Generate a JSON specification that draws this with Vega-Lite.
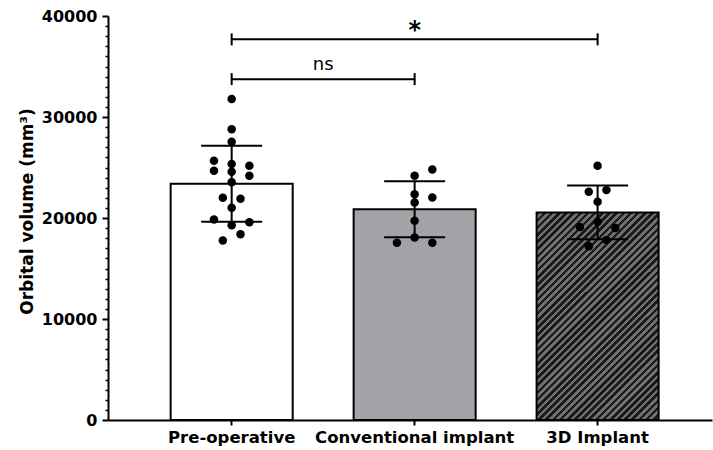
{
  "$schema": "https://vega.github.io/schema/vega-lite/v6.json",
  "width": 604,
  "height": 404,
  "autosize": {"type": "none"},
  "padding": {"left": 108, "top": 16, "right": 1, "bottom": 30},
  "background": "white",
  "config": {"view": {"stroke": null}, "font": "DejaVu Sans"},
  "resolve": {"scale": {"xOffset": "independent"}},
  "datasets": {
    "bars": [
      {"group": "Pre-operative", "mean": 23390, "lo": 19620, "hi": 27160},
      {"group": "Conventional implant", "mean": 20860, "lo": 18085, "hi": 23635},
      {"group": "3D Implant", "mean": 20550, "lo": 17890, "hi": 23210}
    ],
    "points": [
      {"group": "Pre-operative", "value": 31780, "col": 0},
      {"group": "Pre-operative", "value": 28780, "col": 0},
      {"group": "Pre-operative", "value": 27550, "col": 0},
      {"group": "Pre-operative", "value": 25670, "col": -2},
      {"group": "Pre-operative", "value": 24680, "col": -2},
      {"group": "Pre-operative", "value": 25340, "col": 0},
      {"group": "Pre-operative", "value": 24580, "col": 0},
      {"group": "Pre-operative", "value": 25170, "col": 2},
      {"group": "Pre-operative", "value": 24180, "col": 2},
      {"group": "Pre-operative", "value": 23530, "col": 0},
      {"group": "Pre-operative", "value": 22000, "col": -1},
      {"group": "Pre-operative", "value": 21900, "col": 1},
      {"group": "Pre-operative", "value": 21010, "col": 0},
      {"group": "Pre-operative", "value": 19860, "col": -2},
      {"group": "Pre-operative", "value": 19590, "col": 2},
      {"group": "Pre-operative", "value": 19270, "col": 0},
      {"group": "Pre-operative", "value": 18400, "col": 1},
      {"group": "Pre-operative", "value": 17780, "col": -1},
      {"group": "Conventional implant", "value": 24810, "col": 2},
      {"group": "Conventional implant", "value": 24180, "col": 0},
      {"group": "Conventional implant", "value": 22340, "col": 0},
      {"group": "Conventional implant", "value": 22040, "col": 2},
      {"group": "Conventional implant", "value": 21540, "col": 0},
      {"group": "Conventional implant", "value": 19720, "col": 0},
      {"group": "Conventional implant", "value": 18080, "col": 0},
      {"group": "Conventional implant", "value": 17540, "col": -2},
      {"group": "Conventional implant", "value": 17540, "col": 2},
      {"group": "3D Implant", "value": 25170, "col": 0},
      {"group": "3D Implant", "value": 22590, "col": -1},
      {"group": "3D Implant", "value": 22760, "col": 1},
      {"group": "3D Implant", "value": 21600, "col": 0},
      {"group": "3D Implant", "value": 19620, "col": 0},
      {"group": "3D Implant", "value": 19120, "col": -2},
      {"group": "3D Implant", "value": 19020, "col": 2},
      {"group": "3D Implant", "value": 17810, "col": 1},
      {"group": "3D Implant", "value": 17210, "col": -1}
    ],
    "brackets": [
      {"from": "Pre-operative", "to": "Conventional implant", "y": 33750, "label": "ns"},
      {"from": "Pre-operative", "to": "3D Implant", "y": 37690, "label": "*"}
    ]
  },
  "layer": [
    {
      "data": {"name": "bars"},
      "mark": {"type": "bar", "stroke": "black", "strokeWidth": 2, "width": {"band": 1}},
      "encoding": {
        "x": {
          "field": "group", "type": "nominal",
          "scale": {"domain": ["Pre-operative", "Conventional implant", "3D Implant"], "paddingInner": 0.333, "paddingOuter": 0.317, "align": 0.54},
          "axis": {
            "title": null, "labelAngle": 0, "labelFont": "DejaVu Sans", "labelFontWeight": "bold", "labelFontSize": 16.5,
            "labelColor": "black", "labelPadding": 4, "labelLimit": 0, "tickColor": "black", "tickSize": 5, "tickWidth": 2,
            "domainColor": "black", "domainWidth": 2, "grid": false
          }
        },
        "y": {
          "field": "mean", "type": "quantitative",
          "scale": {"domain": [0, 40000], "nice": false},
          "axis": {
            "title": "Orbital volume (mm³)", "titleFont": "DejaVu Sans", "titleFontWeight": "bold", "titleFontSize": 17,
            "titleColor": "black", "titlePadding": 5, "titleY": 195,
            "labelFont": "DejaVu Sans", "labelFontWeight": "bold", "labelFontSize": 16, "labelColor": "black", "labelPadding": 5,
            "tickCount": 40, "labelOverlap": false, "format": "d",
            "labelExpr": "datum.value % 10000 === 0 ? datum.label : ''",
            "tickSize": {"condition": {"test": "datum.value % 10000 === 0", "value": 6}, "value": 3},
            "tickWidth": {"condition": {"test": "datum.value % 10000 === 0", "value": 2}, "value": 1.5},
            "tickColor": "black", "domainColor": "black", "domainWidth": 2, "grid": false
          }
        },
        "fill": {
          "condition": [
            {"test": "datum.group === '3D Implant'", "value": {
              "gradient": "linear", "x1": 0, "y1": 0, "x2": 0.6935, "y2": 1.18,
              "stops": [
                {"offset": 0, "color": "#1a1a1a"}, {"offset": 0.0109, "color": "#1a1a1a"}, {"offset": 0.0109, "color": "#707070"}, {"offset": 0.0217, "color": "#707070"},
                {"offset": 0.0217, "color": "#1a1a1a"}, {"offset": 0.0326, "color": "#1a1a1a"}, {"offset": 0.0326, "color": "#707070"}, {"offset": 0.0435, "color": "#707070"},
                {"offset": 0.0435, "color": "#1a1a1a"}, {"offset": 0.0543, "color": "#1a1a1a"}, {"offset": 0.0543, "color": "#707070"}, {"offset": 0.0652, "color": "#707070"},
                {"offset": 0.0652, "color": "#1a1a1a"}, {"offset": 0.0761, "color": "#1a1a1a"}, {"offset": 0.0761, "color": "#707070"}, {"offset": 0.0870, "color": "#707070"},
                {"offset": 0.0870, "color": "#1a1a1a"}, {"offset": 0.0978, "color": "#1a1a1a"}, {"offset": 0.0978, "color": "#707070"}, {"offset": 0.1087, "color": "#707070"},
                {"offset": 0.1087, "color": "#1a1a1a"}, {"offset": 0.1196, "color": "#1a1a1a"}, {"offset": 0.1196, "color": "#707070"}, {"offset": 0.1304, "color": "#707070"},
                {"offset": 0.1304, "color": "#1a1a1a"}, {"offset": 0.1413, "color": "#1a1a1a"}, {"offset": 0.1413, "color": "#707070"}, {"offset": 0.1522, "color": "#707070"},
                {"offset": 0.1522, "color": "#1a1a1a"}, {"offset": 0.1630, "color": "#1a1a1a"}, {"offset": 0.1630, "color": "#707070"}, {"offset": 0.1739, "color": "#707070"},
                {"offset": 0.1739, "color": "#1a1a1a"}, {"offset": 0.1848, "color": "#1a1a1a"}, {"offset": 0.1848, "color": "#707070"}, {"offset": 0.1957, "color": "#707070"},
                {"offset": 0.1957, "color": "#1a1a1a"}, {"offset": 0.2065, "color": "#1a1a1a"}, {"offset": 0.2065, "color": "#707070"}, {"offset": 0.2174, "color": "#707070"},
                {"offset": 0.2174, "color": "#1a1a1a"}, {"offset": 0.2283, "color": "#1a1a1a"}, {"offset": 0.2283, "color": "#707070"}, {"offset": 0.2391, "color": "#707070"},
                {"offset": 0.2391, "color": "#1a1a1a"}, {"offset": 0.2500, "color": "#1a1a1a"}, {"offset": 0.2500, "color": "#707070"}, {"offset": 0.2609, "color": "#707070"},
                {"offset": 0.2609, "color": "#1a1a1a"}, {"offset": 0.2717, "color": "#1a1a1a"}, {"offset": 0.2717, "color": "#707070"}, {"offset": 0.2826, "color": "#707070"},
                {"offset": 0.2826, "color": "#1a1a1a"}, {"offset": 0.2935, "color": "#1a1a1a"}, {"offset": 0.2935, "color": "#707070"}, {"offset": 0.3043, "color": "#707070"},
                {"offset": 0.3043, "color": "#1a1a1a"}, {"offset": 0.3152, "color": "#1a1a1a"}, {"offset": 0.3152, "color": "#707070"}, {"offset": 0.3261, "color": "#707070"},
                {"offset": 0.3261, "color": "#1a1a1a"}, {"offset": 0.3370, "color": "#1a1a1a"}, {"offset": 0.3370, "color": "#707070"}, {"offset": 0.3478, "color": "#707070"},
                {"offset": 0.3478, "color": "#1a1a1a"}, {"offset": 0.3587, "color": "#1a1a1a"}, {"offset": 0.3587, "color": "#707070"}, {"offset": 0.3696, "color": "#707070"},
                {"offset": 0.3696, "color": "#1a1a1a"}, {"offset": 0.3804, "color": "#1a1a1a"}, {"offset": 0.3804, "color": "#707070"}, {"offset": 0.3913, "color": "#707070"},
                {"offset": 0.3913, "color": "#1a1a1a"}, {"offset": 0.4022, "color": "#1a1a1a"}, {"offset": 0.4022, "color": "#707070"}, {"offset": 0.4130, "color": "#707070"},
                {"offset": 0.4130, "color": "#1a1a1a"}, {"offset": 0.4239, "color": "#1a1a1a"}, {"offset": 0.4239, "color": "#707070"}, {"offset": 0.4348, "color": "#707070"},
                {"offset": 0.4348, "color": "#1a1a1a"}, {"offset": 0.4457, "color": "#1a1a1a"}, {"offset": 0.4457, "color": "#707070"}, {"offset": 0.4565, "color": "#707070"},
                {"offset": 0.4565, "color": "#1a1a1a"}, {"offset": 0.4674, "color": "#1a1a1a"}, {"offset": 0.4674, "color": "#707070"}, {"offset": 0.4783, "color": "#707070"},
                {"offset": 0.4783, "color": "#1a1a1a"}, {"offset": 0.4891, "color": "#1a1a1a"}, {"offset": 0.4891, "color": "#707070"}, {"offset": 0.5000, "color": "#707070"},
                {"offset": 0.5000, "color": "#1a1a1a"}, {"offset": 0.5109, "color": "#1a1a1a"}, {"offset": 0.5109, "color": "#707070"}, {"offset": 0.5217, "color": "#707070"},
                {"offset": 0.5217, "color": "#1a1a1a"}, {"offset": 0.5326, "color": "#1a1a1a"}, {"offset": 0.5326, "color": "#707070"}, {"offset": 0.5435, "color": "#707070"},
                {"offset": 0.5435, "color": "#1a1a1a"}, {"offset": 0.5543, "color": "#1a1a1a"}, {"offset": 0.5543, "color": "#707070"}, {"offset": 0.5652, "color": "#707070"},
                {"offset": 0.5652, "color": "#1a1a1a"}, {"offset": 0.5761, "color": "#1a1a1a"}, {"offset": 0.5761, "color": "#707070"}, {"offset": 0.5870, "color": "#707070"},
                {"offset": 0.5870, "color": "#1a1a1a"}, {"offset": 0.5978, "color": "#1a1a1a"}, {"offset": 0.5978, "color": "#707070"}, {"offset": 0.6087, "color": "#707070"},
                {"offset": 0.6087, "color": "#1a1a1a"}, {"offset": 0.6196, "color": "#1a1a1a"}, {"offset": 0.6196, "color": "#707070"}, {"offset": 0.6304, "color": "#707070"},
                {"offset": 0.6304, "color": "#1a1a1a"}, {"offset": 0.6413, "color": "#1a1a1a"}, {"offset": 0.6413, "color": "#707070"}, {"offset": 0.6522, "color": "#707070"},
                {"offset": 0.6522, "color": "#1a1a1a"}, {"offset": 0.6630, "color": "#1a1a1a"}, {"offset": 0.6630, "color": "#707070"}, {"offset": 0.6739, "color": "#707070"},
                {"offset": 0.6739, "color": "#1a1a1a"}, {"offset": 0.6848, "color": "#1a1a1a"}, {"offset": 0.6848, "color": "#707070"}, {"offset": 0.6957, "color": "#707070"},
                {"offset": 0.6957, "color": "#1a1a1a"}, {"offset": 0.7065, "color": "#1a1a1a"}, {"offset": 0.7065, "color": "#707070"}, {"offset": 0.7174, "color": "#707070"},
                {"offset": 0.7174, "color": "#1a1a1a"}, {"offset": 0.7283, "color": "#1a1a1a"}, {"offset": 0.7283, "color": "#707070"}, {"offset": 0.7391, "color": "#707070"},
                {"offset": 0.7391, "color": "#1a1a1a"}, {"offset": 0.7500, "color": "#1a1a1a"}, {"offset": 0.7500, "color": "#707070"}, {"offset": 0.7609, "color": "#707070"},
                {"offset": 0.7609, "color": "#1a1a1a"}, {"offset": 0.7717, "color": "#1a1a1a"}, {"offset": 0.7717, "color": "#707070"}, {"offset": 0.7826, "color": "#707070"},
                {"offset": 0.7826, "color": "#1a1a1a"}, {"offset": 0.7935, "color": "#1a1a1a"}, {"offset": 0.7935, "color": "#707070"}, {"offset": 0.8043, "color": "#707070"},
                {"offset": 0.8043, "color": "#1a1a1a"}, {"offset": 0.8152, "color": "#1a1a1a"}, {"offset": 0.8152, "color": "#707070"}, {"offset": 0.8261, "color": "#707070"},
                {"offset": 0.8261, "color": "#1a1a1a"}, {"offset": 0.8370, "color": "#1a1a1a"}, {"offset": 0.8370, "color": "#707070"}, {"offset": 0.8478, "color": "#707070"},
                {"offset": 0.8478, "color": "#1a1a1a"}, {"offset": 0.8587, "color": "#1a1a1a"}, {"offset": 0.8587, "color": "#707070"}, {"offset": 0.8696, "color": "#707070"},
                {"offset": 0.8696, "color": "#1a1a1a"}, {"offset": 0.8804, "color": "#1a1a1a"}, {"offset": 0.8804, "color": "#707070"}, {"offset": 0.8913, "color": "#707070"},
                {"offset": 0.8913, "color": "#1a1a1a"}, {"offset": 0.9022, "color": "#1a1a1a"}, {"offset": 0.9022, "color": "#707070"}, {"offset": 0.9130, "color": "#707070"},
                {"offset": 0.9130, "color": "#1a1a1a"}, {"offset": 0.9239, "color": "#1a1a1a"}, {"offset": 0.9239, "color": "#707070"}, {"offset": 0.9348, "color": "#707070"},
                {"offset": 0.9348, "color": "#1a1a1a"}, {"offset": 0.9457, "color": "#1a1a1a"}, {"offset": 0.9457, "color": "#707070"}, {"offset": 0.9565, "color": "#707070"},
                {"offset": 0.9565, "color": "#1a1a1a"}, {"offset": 0.9674, "color": "#1a1a1a"}, {"offset": 0.9674, "color": "#707070"}, {"offset": 0.9783, "color": "#707070"},
                {"offset": 0.9783, "color": "#1a1a1a"}, {"offset": 0.9891, "color": "#1a1a1a"}, {"offset": 0.9891, "color": "#707070"}, {"offset": 1, "color": "#707070"}
              ]
            }},
            {"test": "datum.group === 'Conventional implant'", "value": "#a3a3a7"}
          ],
          "value": "white"
        }
      }
    },
    {
      "data": {"name": "bars"},
      "mark": {"type": "rule", "color": "black", "strokeWidth": 2},
      "encoding": {
        "x": {"field": "group", "type": "nominal"},
        "y": {"field": "lo", "type": "quantitative"},
        "y2": {"field": "hi"}
      }
    },
    {
      "data": {"name": "bars"},
      "transform": [{"fold": ["lo", "hi"], "as": ["bound", "limit"]}],
      "mark": {"type": "tick", "orient": "horizontal", "size": 61, "thickness": 2, "color": "black", "opacity": 1},
      "encoding": {
        "x": {"field": "group", "type": "nominal"},
        "y": {"field": "limit", "type": "quantitative"}
      }
    },
    {
      "data": {"name": "points"},
      "mark": {"type": "circle", "size": 72, "color": "black", "opacity": 1},
      "encoding": {
        "x": {"field": "group", "type": "nominal"},
        "xOffset": {"field": "col", "type": "quantitative", "scale": {"domain": [-6.9, 6.9]}},
        "y": {"field": "value", "type": "quantitative"}
      }
    },
    {
      "data": {"name": "brackets"},
      "mark": {"type": "rule", "color": "black", "strokeWidth": 2},
      "encoding": {
        "x": {"field": "from", "type": "nominal"},
        "x2": {"field": "to"},
        "y": {"field": "y", "type": "quantitative"}
      }
    },
    {
      "data": {"name": "brackets"},
      "transform": [{"fold": ["from", "to"], "as": ["end", "cat"]}],
      "mark": {"type": "tick", "orient": "vertical", "size": 12, "thickness": 2, "color": "black", "opacity": 1},
      "encoding": {
        "x": {"field": "cat", "type": "nominal"},
        "y": {"field": "y", "type": "quantitative"}
      }
    },
    {
      "data": {"name": "brackets"},
      "transform": [{"filter": "datum.label === 'ns'"}],
      "mark": {"type": "text", "font": "DejaVu Sans", "fontSize": 18, "color": "black", "baseline": "alphabetic", "align": "center", "dx": 91.6, "dy": -9},
      "encoding": {
        "x": {"field": "from", "type": "nominal"},
        "y": {"field": "y", "type": "quantitative"},
        "text": {"field": "label"}
      }
    },
    {
      "data": {"name": "brackets"},
      "transform": [{"filter": "datum.label === '*'"}],
      "mark": {"type": "text", "font": "DejaVu Sans", "fontSize": 24, "fontWeight": "bold", "color": "black", "baseline": "alphabetic", "align": "center", "dx": 183.1, "dy": -1},
      "encoding": {
        "x": {"field": "from", "type": "nominal"},
        "y": {"field": "y", "type": "quantitative"},
        "text": {"field": "label"}
      }
    }
  ]
}
